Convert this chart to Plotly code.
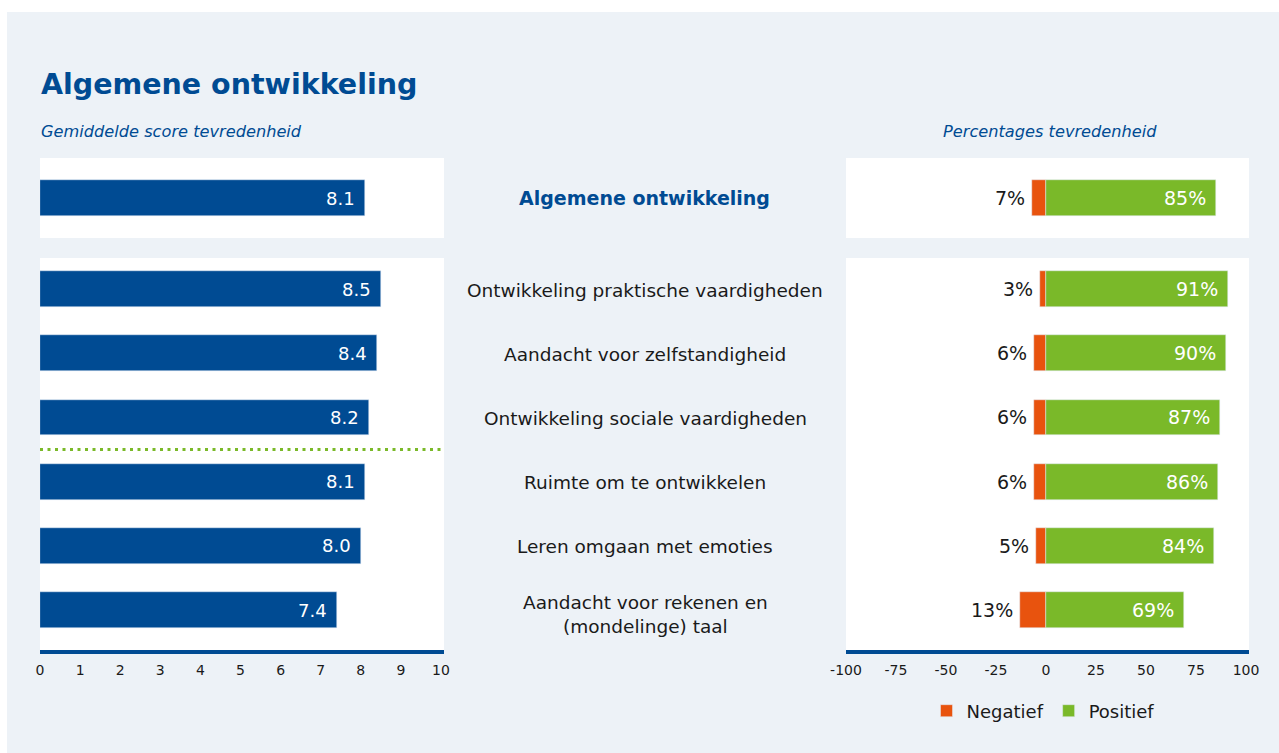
import plotly.graph_objects as go

# ---------------- data ----------------
overall_label = "Algemene ontwikkeling"
overall_score = [8.1]
overall_neg = [7]
overall_pos = [85]

categories = [
    "Ontwikkeling praktische vaardigheden",
    "Aandacht voor zelfstandigheid",
    "Ontwikkeling sociale vaardigheden",
    "Ruimte om te ontwikkelen",
    "Leren omgaan met emoties",
    "Aandacht voor rekenen en<br>(mondelinge) taal",
]
scores = [8.5, 8.4, 8.2, 8.1, 8.0, 7.4]
negatief = [3, 6, 6, 6, 5, 13]
positief = [91, 90, 87, 86, 84, 69]
benchmark_pos = 2.5  # divider between rows (row index)

score_ticks = list(range(0, 11))
score_ticktext = [str(v) for v in score_ticks]
pct_ticks = [-100, -75, -50, -25, 0, 25, 50, 75, 100]
pct_ticktext = [str(v) for v in pct_ticks]

# ---------------- styles ----------------
W, H = 1279, 753
BLUE = "#004B93"
ORANGE = "#E8530E"
GREEN = "#7AB929"
BG = "#EDF2F7"
TXT = "#1A1A1A"
FONT = "DejaVu Sans"

def px_x(p):
    return p / W

def px_y(p):
    return (H - p) / H

rows = list(range(len(categories)))

fig = go.Figure()

# left top
fig.add_trace(go.Bar(x=overall_score, y=[0], orientation="h", marker_color=BLUE,
                     width=0.56, xaxis="x", yaxis="y", showlegend=False, hoverinfo="skip"))
# left bottom
fig.add_trace(go.Bar(x=scores, y=rows, orientation="h", marker_color=BLUE,
                     width=0.56, xaxis="x2", yaxis="y2", showlegend=False, hoverinfo="skip"))
# right top
fig.add_trace(go.Bar(x=[-v for v in overall_neg], y=[0], orientation="h", marker_color=ORANGE,
                     width=0.56, xaxis="x3", yaxis="y3", showlegend=False, hoverinfo="skip"))
fig.add_trace(go.Bar(x=overall_pos, y=[0], orientation="h", marker_color=GREEN,
                     width=0.56, xaxis="x3", yaxis="y3", showlegend=False, hoverinfo="skip"))
# right bottom
fig.add_trace(go.Bar(x=[-v for v in negatief], y=rows, orientation="h", marker_color=ORANGE,
                     width=0.56, xaxis="x4", yaxis="y4", name="Negatief", hoverinfo="skip"))
fig.add_trace(go.Bar(x=positief, y=rows, orientation="h", marker_color=GREEN,
                     width=0.56, xaxis="x4", yaxis="y4", name="Positief", hoverinfo="skip"))

annotations = []

def value_label(x, y, xref, yref, text, color, shift, size):
    annotations.append(dict(x=x, y=y, xref=xref, yref=yref, text=text, showarrow=False,
                            xanchor="right", yanchor="middle", xshift=shift,
                            font=dict(family=FONT, size=size, color=color)))

# left value labels
value_label(overall_score[0], 0, "x", "y", f"{overall_score[0]:.1f}", "white", -8, 18)
for i, v in zip(rows, scores):
    value_label(v, i, "x2", "y2", f"{v:.1f}", "white", -8, 18)

# right value labels
value_label(-overall_neg[0], 0, "x3", "y3", f"{overall_neg[0]}%", TXT, -5, 19)
value_label(overall_pos[0], 0, "x3", "y3", f"{overall_pos[0]}%", "white", -8, 19)
for i, n, p in zip(rows, negatief, positief):
    value_label(-n, i, "x4", "y4", f"{n}%", TXT, -5, 19)
    value_label(p, i, "x4", "y4", f"{p}%", "white", -8, 19)

# center category labels
annotations.append(dict(x=px_x(644), y=0, xref="paper", yref="y", text=overall_label,
                        showarrow=False, xanchor="center", yanchor="middle",
                        font=dict(family=FONT, size=19, color=BLUE, weight="bold")))
for i, c in zip(rows, categories):
    annotations.append(dict(x=px_x(645), y=i, xref="paper", yref="y2", text=c,
                            showarrow=False, xanchor="center", yanchor="middle",
                            yshift=-4 if "<br>" in c else -1,
                            font=dict(family=FONT, size=18.5, color=TXT)))

# titles
annotations.append(dict(x=px_x(39), y=px_y(84), xref="paper", yref="paper",
                        text="Algemene ontwikkeling", showarrow=False,
                        xanchor="left", yanchor="middle",
                        font=dict(family=FONT, size=28.5, color=BLUE, weight="bold")))
annotations.append(dict(x=px_x(39), y=px_y(132), xref="paper", yref="paper",
                        text="Gemiddelde score tevredenheid", showarrow=False,
                        xanchor="left", yanchor="middle",
                        font=dict(family=FONT, size=16.2, color=BLUE, style="italic")))
annotations.append(dict(x=px_x(1050), y=px_y(132), xref="paper", yref="paper",
                        text="Percentages tevredenheid", showarrow=False,
                        xanchor="center", yanchor="middle",
                        font=dict(family=FONT, size=16.2, color=BLUE, style="italic")))

shapes = [
    dict(type="rect", xref="paper", yref="paper", x0=px_x(7), x1=1.0, y0=0, y1=px_y(12),
         fillcolor=BG, line=dict(width=0), layer="below"),
]
# white plotting boxes behind each panel
for xa, ya in [("x", "y"), ("x2", "y2"), ("x3", "y3"), ("x4", "y4")]:
    shapes.append(dict(type="rect", xref=f"{xa} domain", yref=f"{ya} domain",
                       x0=0, x1=1, y0=0, y1=1, fillcolor="white",
                       line=dict(width=0), layer="below"))
shapes.append(dict(type="line", xref="x2 domain", yref="y2", x0=0, x1=1,
                   y0=benchmark_pos, y1=benchmark_pos,
                   line=dict(color=GREEN, width=3, dash="3px,4.5px")))

left_dom = [px_x(40), px_x(444)]
right_dom = [px_x(846), px_x(1249)]
top_dom = [px_y(238), px_y(158)]
bot_dom = [px_y(650), px_y(258)]
top_range = [0.623, -0.623]
bot_range = [5.62, -0.483]

hidden = dict(visible=False, fixedrange=True, automargin=False)
tickfont = dict(family=FONT, size=14, color=TXT)

fig.update_layout(
    width=W, height=H, autosize=False,
    margin=dict(l=0, r=0, t=0, b=0, pad=0, autoexpand=False),
    paper_bgcolor="white", plot_bgcolor="white",
    barmode="relative", bargap=0,
    font=dict(family=FONT, color=TXT),
    showlegend=True,
    legend=dict(orientation="h", x=px_x(1043), xanchor="center", y=px_y(711), yanchor="middle",
                bgcolor="rgba(0,0,0,0)", font=dict(family=FONT, size=18, color=TXT),
                traceorder="normal", itemclick=False, itemdoubleclick=False),
    xaxis=dict(domain=left_dom, anchor="y", range=[0, 10.075], **hidden),
    yaxis=dict(domain=top_dom, anchor="x", range=top_range, **hidden),
    xaxis2=dict(domain=left_dom, anchor="y2", range=[0, 10.075], tickvals=score_ticks,
                ticktext=score_ticktext, automargin=False, ticklabelstandoff=4,
                showgrid=False, zeroline=False, showline=True, linecolor=BLUE, linewidth=4,
                ticks="", tickfont=tickfont, fixedrange=True),
    yaxis2=dict(domain=bot_dom, anchor="x2", range=bot_range, **hidden),
    xaxis3=dict(domain=right_dom, anchor="y3", range=[-100, 101.5], **hidden),
    yaxis3=dict(domain=top_dom, anchor="x3", range=top_range, **hidden),
    xaxis4=dict(domain=right_dom, anchor="y4", range=[-100, 101.5], tickvals=pct_ticks,
                ticktext=pct_ticktext, automargin=False, ticklabelstandoff=4,
                showgrid=False, zeroline=False, showline=True, linecolor=BLUE, linewidth=4,
                ticks="", tickfont=tickfont, fixedrange=True),
    yaxis4=dict(domain=bot_dom, anchor="x4", range=bot_range, **hidden),
    annotations=annotations,
    shapes=shapes,
)

fig.write_html(
    "out.html",
    config=dict(displayModeBar=False, responsive=False),
    post_script="document.body.style.margin='0';document.body.style.overflow='hidden';",
)
